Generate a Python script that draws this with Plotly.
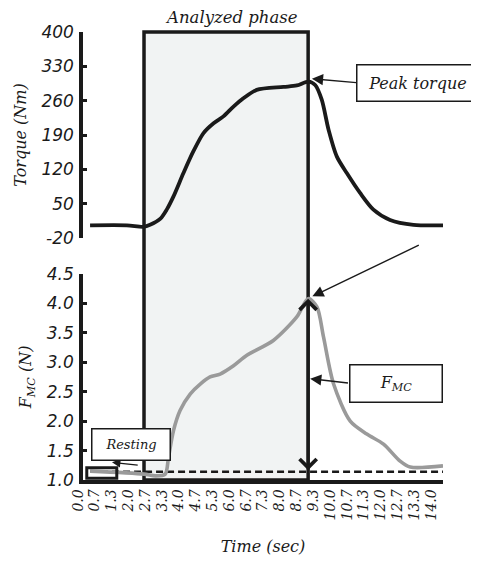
import plotly.graph_objects as go

# ---- data ----
torque_t = [0.0, 1.46, 2.12, 2.38, 2.78, 3.04, 3.31, 3.70, 4.10, 4.50, 4.90, 5.29, 5.69, 6.08,
            6.61, 7.67, 8.20, 8.66, 8.93, 9.19, 9.46, 9.79, 10.19, 10.71, 11.24, 11.90, 12.83, 14.0]
torque_nm = [6, 6, 3, 7, 19, 38, 65, 112, 157, 194, 214, 228, 248, 265,
             282, 288, 291, 299, 292, 262, 201, 146, 112, 72, 38, 17, 7, 6]

fmc_t = [0.0, 2.14, 2.60, 2.98, 3.11, 3.31, 3.57, 3.97, 4.37, 4.76, 5.16, 5.69, 6.22,
         7.27, 8.20, 8.66, 9.00, 9.26, 9.66, 10.32, 10.98, 11.64, 12.30, 12.70, 14.0]
fmc_n = [1.15, 1.10, 1.07, 1.10, 1.38, 1.84, 2.18, 2.46, 2.63, 2.75, 2.80, 2.94, 3.12,
         3.37, 3.77, 4.08, 3.94, 3.43, 2.63, 2.00, 1.78, 1.61, 1.32, 1.22, 1.24]

resting_level = 1.14
phase_start, phase_end = 2.14, 8.65
peak_time, peak_torque, peak_fmc = 8.66, 299, 4.08

x_tick_vals = [i * 2 / 3 for i in range(22)]
x_tick_text = ["0.0", "0.7", "1.3", "2.0", "2.7", "3.3", "4.0", "4.7", "5.3", "6.0", "6.7",
               "7.3", "8.0", "8.7", "9.3", "10.0", "10.7", "11.3", "12.0", "12.7", "13.3", "14.0"]
torque_ticks = [-20, 50, 120, 190, 260, 330, 400]
torque_tick_text = ["-20", "50", "120", "190", "260", "330", "400"]
fmc_ticks = [1.0, 1.5, 2.0, 2.5, 3.0, 3.5, 4.0, 4.5]
fmc_tick_text = ["1.0", "1.5", "2.0", "2.5", "3.0", "3.5", "4.0", "4.5"]

SERIF = "DejaVu Serif"
SANS = "DejaVu Sans"
INK = "#1a1a1a"

fig = go.Figure()

fig.add_trace(go.Scatter(x=torque_t, y=torque_nm, mode="lines", xaxis="x", yaxis="y",
                         line=dict(color=INK, width=3.8, shape="spline", smoothing=0.8),
                         name="Torque"))
fig.add_trace(go.Scatter(x=[fmc_t[0], fmc_t[-1]], y=[resting_level, resting_level], mode="lines",
                         xaxis="x", yaxis="y2",
                         line=dict(color=INK, width=2.6, dash="7px,4px"), name="Resting"))
fig.add_trace(go.Scatter(x=fmc_t, y=fmc_n, mode="lines", xaxis="x", yaxis="y2",
                         line=dict(color="#9a9a9a", width=3.6, shape="spline", smoothing=0.8),
                         name="FMC"))

shapes = [
    dict(type="rect", xref="x", yref="paper", x0=phase_start, x1=phase_end, y0=0, y1=1,
         fillcolor="#f1f3f3", line=dict(color=INK, width=3.5), layer="below"),
    dict(type="rect", xref="x", yref="y2", x0=-0.13, x1=1.06, y0=1.03, y1=1.21,
         fillcolor="rgba(0,0,0,0)", line=dict(color=INK, width=3), layer="above"),
]

annotations = [
    dict(text="Analyzed phase", xref="x", yref="paper", x=5.6, y=1.0, yshift=15,
         xanchor="center", yanchor="middle",
         showarrow=False, font=dict(family=SERIF, size=16.5, color=INK, style="italic")),
    # peak torque
    dict(text="Peak torque", xref="x", yref="y", x=13.0, y=295.6, showarrow=False,
         xanchor="center", yanchor="middle",
         font=dict(family=SERIF, size=16, color=INK, style="italic"),
         bordercolor=INK, borderwidth=1.5, borderpad=1, bgcolor="white",
         width=118, height=33),
    dict(text="", xref="x", yref="y", x=8.8, y=304.8, axref="x", ayref="y", ax=10.62, ay=296.6,
         showarrow=True, arrowhead=2, arrowsize=1.6, arrowwidth=1.4, arrowcolor=INK),
    # big diagonal arrow to FMC peak
    dict(text="", xref="x", yref="y2", x=8.82, y=4.12, axref="x", ayref="y2", ax=13.1, ay=5.0,
         showarrow=True, arrowhead=2, arrowsize=1.6, arrowwidth=1.4, arrowcolor=INK),
    # double arrow
    dict(text="", xref="x", yref="y2", x=peak_time - 0.01, y=peak_fmc, axref="x", ayref="y2",
         ax=peak_time - 0.01, ay=resting_level, showarrow=True, arrowhead=4, startarrowhead=4,
         arrowside="end+start", arrowsize=1.1, startarrowsize=1.1, arrowwidth=3, arrowcolor=INK),
    # FMC box
    dict(text="<i>F<sub>MC</sub></i>", xref="x", yref="y2", x=12.12, y=2.64, showarrow=False,
         xanchor="center", yanchor="middle",
         font=dict(family=SERIF, size=16, color=INK, style="italic"),
         bordercolor=INK, borderwidth=1.5, borderpad=1, bgcolor="white",
         width=89, height=34),
    dict(text="", xref="x", yref="y2", x=8.73, y=2.72, axref="x", ayref="y2", ax=10.29, ay=2.644,
         showarrow=True, arrowhead=2, arrowsize=1.6, arrowwidth=1.4, arrowcolor=INK),
    # resting
    dict(text="", xref="x", yref="y2", x=0.87, y=1.30, axref="x", ayref="y2", ax=1.95, ay=1.25,
         showarrow=True, arrowhead=2, arrowsize=1.4, arrowwidth=1.2, arrowcolor=INK),
    dict(text="Resting", xref="x", yref="y2", x=1.607, y=1.598, showarrow=False,
         xanchor="center", yanchor="middle",
         font=dict(family=SERIF, size=13, color=INK, style="italic"),
         bordercolor=INK, borderwidth=1.5, borderpad=1, bgcolor="white", width=75, height=28),
]

# the page body keeps its default 8px margin, so the figure is 8px smaller
fig.update_layout(
    width=471, height=553,
    margin=dict(l=75, r=36, t=24, b=81),
    paper_bgcolor="white", plot_bgcolor="rgba(0,0,0,0)",
    showlegend=False,
    shapes=shapes, annotations=annotations,
    xaxis=dict(anchor="y2", range=[-0.28, 14.0], showline=True, linewidth=3.5, linecolor=INK,
               showgrid=False, zeroline=False, ticks="", tickvals=x_tick_vals,
               ticktext=x_tick_text, tickangle=-90, ticklabelshift=-12, automargin=False,
               tickfont=dict(family=SERIF, size=14, color=INK, style="italic"),
               title=dict(text="Time (sec)", standoff=22,
                          font=dict(family=SERIF, size=16, color=INK, style="italic"))),
    yaxis=dict(domain=[0.540, 1.0], anchor="x", range=[-20, 400], tickvals=torque_ticks,
               ticktext=torque_tick_text, automargin=False, ticklabelstandoff=2,
               showline=True, linewidth=3.5, linecolor=INK, showgrid=False, zeroline=False,
               ticks="inside", ticklen=4, tickwidth=3, tickcolor=INK,
               tickfont=dict(family=SANS, size=17, color=INK, style="italic"),
               title=dict(text="Torque (Nm)", standoff=12,
                          font=dict(family=SERIF, size=16, color=INK, style="italic"))),
    yaxis2=dict(domain=[0.0, 0.46], anchor="x", range=[1.0, 4.5], tickvals=fmc_ticks,
                ticktext=fmc_tick_text, automargin=False, ticklabelstandoff=2,
                showline=True, linewidth=3.5, linecolor=INK, showgrid=False, zeroline=False,
                ticks="inside", ticklen=4, tickwidth=3, tickcolor=INK,
                tickfont=dict(family=SANS, size=17, color=INK, style="italic"),
                title=dict(text="<i>F<sub>MC</sub> (N)</i>", standoff=12,
                           font=dict(family=SERIF, size=16, color=INK, style="italic"))),
)

fig.write_html("out.html")
